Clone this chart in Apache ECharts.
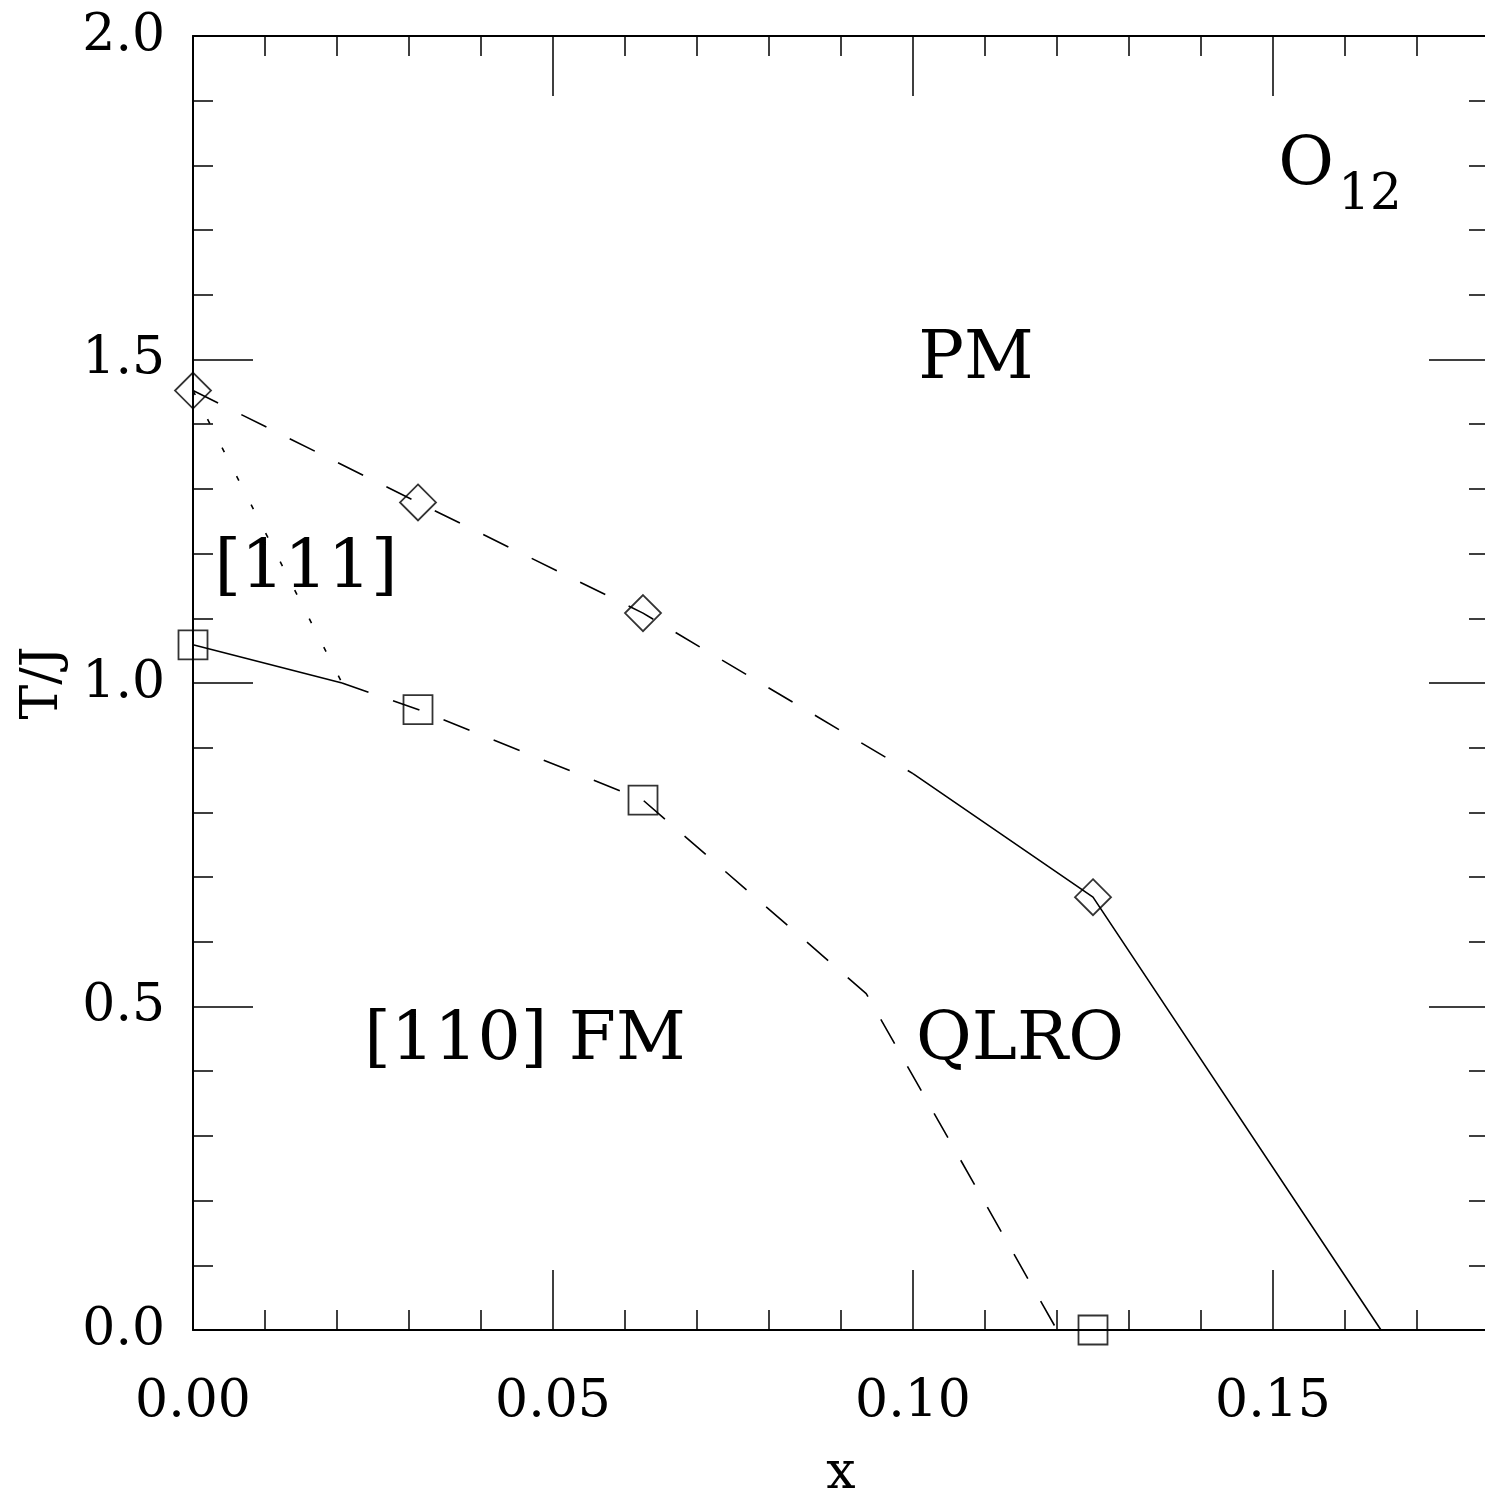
<!DOCTYPE html>
<html>
<head>
<meta charset="utf-8">
<script src="https://cdn.jsdelivr.net/npm/echarts@6/dist/echarts.min.js"></script>
<style>
  html, body { margin: 0; padding: 0; background: #fff; }
  #chart { width: 1485px; height: 1499px; }
</style>
</head>
<body>
<div id="chart"></div>
<script>
// ---- data ----
const diamondX = [0, 0.03125, 0.0625, 0.125];
const diamondY = [1.452, 1.279, 1.108, 0.669];

const squareX = [0, 0.03125, 0.0625, 0.125];
const squareY = [1.059, 0.959, 0.819, 0.0];

// upper boundary (PM / ordered): dashed part then solid part
const upperDashX = [0, 0.03125, 0.0625, 0.100];
const upperDashY = [1.452, 1.279, 1.108, 0.860];
const upperSolidX = [0.100, 0.125, 0.165];
const upperSolidY = [0.860, 0.669, 0.0];

// lower boundary ([110] FM): solid part then dashed part
const lowerSolidX = [0, 0.0207];
const lowerSolidY = [1.059, 1.000];
const lowerDashX = [0.0207, 0.03125, 0.0625, 0.0935, 0.120];
const lowerDashY = [1.000, 0.959, 0.819, 0.520, 0.0];

// dotted boundary ([111] region)
const dotX = [0, 0.0207];
const dotY = [1.452, 1.000];

const xTickMajor = 0.05, xTickMinor = 0.01;
const yTickMajor = 0.5;

const FONT = 'DejaVu Serif';

function zip(xs, ys) { return xs.map((x, i) => [x, ys[i]]); }

const chart = echarts.init(document.getElementById('chart'), null, { renderer: 'canvas' });

const axisLineStyle = { color: '#000', width: 2 };
const tickLineStyle = { color: '#000', width: 1.5 };

function xAx(pos, interval, len, showLine, labels) {
  return {
    type: 'value', position: pos, min: 0, max: 0.18, interval: interval,
    axisLine: { show: showLine, onZero: false, lineStyle: axisLineStyle },
    axisTick: { show: true, inside: true, length: len, lineStyle: tickLineStyle },
    splitLine: { show: false },
    axisLabel: labels ? {
      show: true, margin: 46, color: '#000', fontFamily: FONT, fontSize: 52,
      formatter: function (v) {
        const k = v / xTickMajor;
        return Math.abs(k - Math.round(k)) < 1e-6 ? v.toFixed(2) : '';
      }
    } : { show: false },
    name: labels ? 'x' : '',
    nameLocation: 'middle', nameGap: 118,
    nameTextStyle: { color: '#000', fontFamily: FONT, fontSize: 52 }
  };
}

function yAx(pos, labels) {
  return {
    type: 'value', position: pos, min: 0, max: 2, interval: yTickMajor,
    axisLine: { show: true, onZero: false, lineStyle: axisLineStyle },
    axisTick: { show: true, inside: true, length: 60, lineStyle: tickLineStyle },
    minorTick: { show: true, splitNumber: 5, length: 20, lineStyle: tickLineStyle },
    splitLine: { show: false },
    axisLabel: labels ? {
      show: true, margin: 28, color: '#000', fontFamily: FONT, fontSize: 52,
      formatter: function (v) { return v.toFixed(1); }
    } : { show: false },
    name: labels ? 'T/J' : '',
    nameLocation: 'middle', nameGap: 124, nameRotate: 90,
    nameTextStyle: { color: '#000', fontFamily: FONT, fontSize: 52 }
  };
}

function lineSeries(xs, ys, dash) {
  return {
    type: 'line', xAxisIndex: 0, yAxisIndex: 0,
    data: zip(xs, ys), showSymbol: false, symbol: 'none',
    lineStyle: { color: '#000', width: 1.6, type: dash },
    silent: true, animation: false
  };
}

function markerSeries(xs, ys, sym, size) {
  return {
    type: 'scatter', xAxisIndex: 0, yAxisIndex: 0,
    data: zip(xs, ys), symbol: sym, symbolSize: size,
    itemStyle: { color: 'rgba(0,0,0,0)', borderColor: '#000', borderWidth: 1.8 },
    silent: true, animation: false
  };
}

function txt(text, x, y, size) {
  return {
    type: 'text', x: x, y: y, silent: true,
    style: { text: text, fill: '#000', fontFamily: FONT, fontSize: size, align: 'center', verticalAlign: 'middle' }
  };
}

chart.setOption({
  animation: false,
  backgroundColor: '#fff',
  grid: { left: 193, top: 36, right: -4, bottom: 169, containLabel: false, outerBoundsMode: 'none' },
  xAxis: [
    xAx('bottom', xTickMajor, 60, true, true),
    xAx('bottom', xTickMinor, 20, false, false),
    xAx('top', xTickMajor, 60, true, false),
    xAx('top', xTickMinor, 20, false, false)
  ],
  yAxis: [yAx('left', true), yAx('right', false)],
  series: [
    lineSeries(upperDashX, upperDashY, [28, 26]),
    lineSeries(upperSolidX, upperSolidY, 'solid'),
    lineSeries(lowerSolidX, lowerSolidY, 'solid'),
    lineSeries(lowerDashX, lowerDashY, [28, 26]),
    lineSeries(dotX, dotY, [5, 27]),
    markerSeries(diamondX, diamondY, 'diamond', 36),
    markerSeries(squareX, squareY, 'rect', 29)
  ],
  graphic: [
    txt('PM', 976, 360, 68),
    txt('O', 1306, 166, 68),
    txt('12', 1370, 196, 50),
    txt('[111]', 306, 569, 68),
    txt('[110] FM', 525, 1041, 68),
    txt('QLRO', 1020, 1041, 68)
  ]
});
</script>
</body>
</html>
